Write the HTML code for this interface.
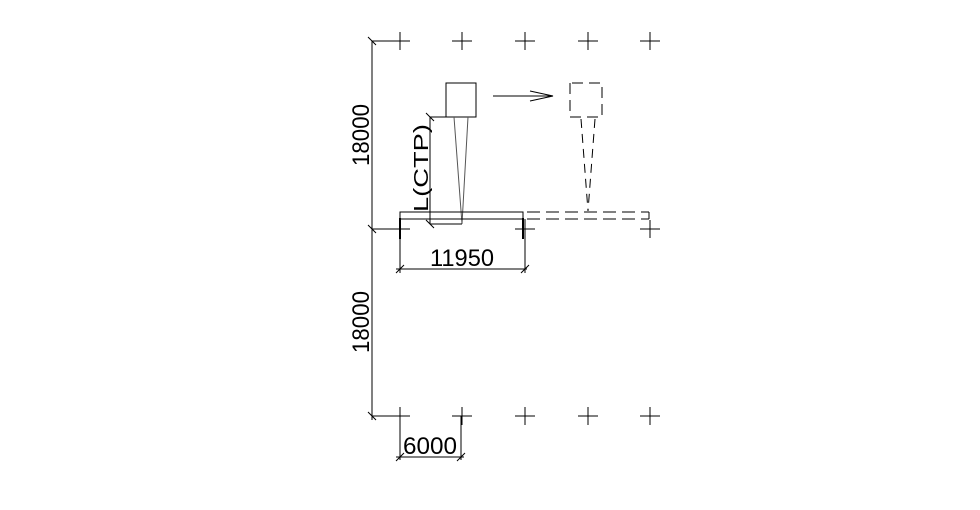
<!DOCTYPE html>
<html><head><meta charset="utf-8"><style>html,body{margin:0;padding:0;background:#fff}svg{display:block}</style></head>
<body>
<svg width="980" height="510" viewBox="0 0 980 510" xmlns="http://www.w3.org/2000/svg" stroke="#000" stroke-width="1" fill="none" font-family="Liberation Sans, sans-serif">
<g>
<path d="M390 41H410M400 32V50 M452 41H472M462 32V50 M515 41H535M525 32V50 M578 41H598M588 32V50 M640 41H660M650 32V50"/>
<path d="M390 229H410 M515 229H535M525 220V238 M640 229H660M650 220V238"/>
<path d="M390 416H410M400 407V425 M452 416H472M462 407V425 M515 416H535M525 407V425 M578 416H598M588 407V425 M640 416H660M650 407V425"/>
<path d="M372 41V420 M372 41H400 M372 229H400 M372 416H400"/>
<path d="M368 37L376 45 M368 225L376 233 M368 412L376 420"/>
<rect x="446" y="83" width="30" height="34"/>
<path d="M454 117L462 224L468 117" stroke="#555"/>
<path d="M493 96H553 M530 91L553 96L530 101"/>
<path d="M570 83V117H602V83Z" stroke-dasharray="11,6"/>
<path d="M581 119L588 211M595 119L588 211" stroke-dasharray="9,6"/>
<path d="M400 212H523V219H400Z"/>
<path d="M400 218V239 M523 218V239" stroke-width="2"/>
<path d="M527 212H649M527 219H649" stroke-dasharray="13,6"/>
<path d="M649 212V219"/>
<path d="M430 117V224 M430 117H446 M430 224H462"/>
<path d="M426 113L434 121 M426 220L434 228"/>
<path d="M400 219V273 M525 219V273 M396 269H527"/>
<path d="M396 273L404 265 M521 273L529 265"/>
<path d="M400 416V460 M461 416V460 M396 457H464"/>
<path d="M396 461L404 453 M457 461L465 453"/>
</g>
<g fill="#000" stroke="none" font-size="24">
<text transform="translate(369,135) rotate(-90)" text-anchor="middle" textLength="62" lengthAdjust="spacingAndGlyphs">18000</text>
<text transform="translate(369,322) rotate(-90)" text-anchor="middle" textLength="62" lengthAdjust="spacingAndGlyphs">18000</text>
<text x="462" y="266" text-anchor="middle" textLength="64" lengthAdjust="spacingAndGlyphs">11950</text>
<text x="430" y="454" text-anchor="middle" textLength="54" lengthAdjust="spacingAndGlyphs">6000</text>
<text transform="translate(428,168) rotate(-90)" text-anchor="middle" font-size="20" textLength="88" lengthAdjust="spacingAndGlyphs">L(CTP)</text>
</g>
</svg>
</body></html>
